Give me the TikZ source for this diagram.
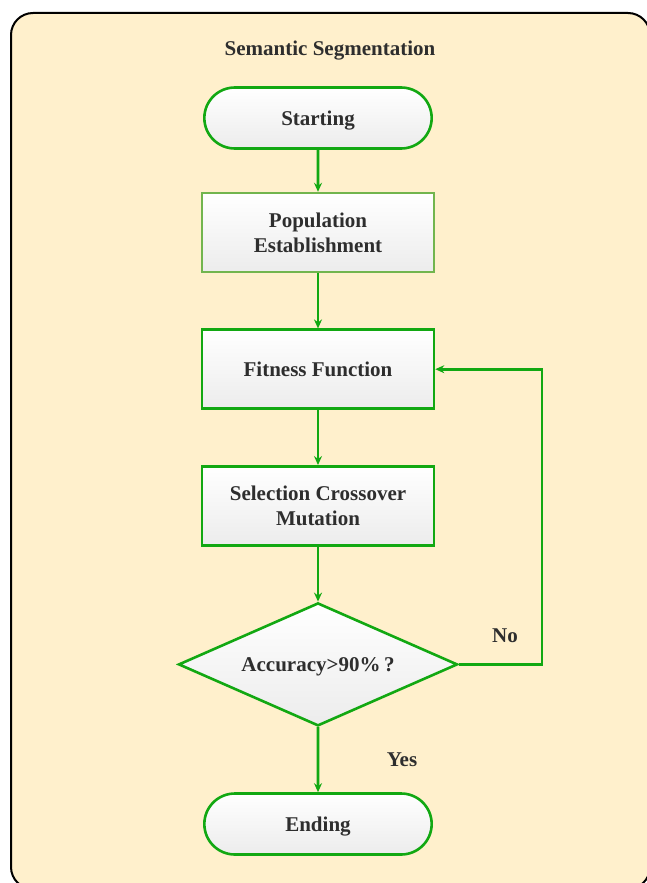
\documentclass[tikz,border=0pt]{standalone}
\usepackage{fontspec}
\setmainfont{Liberation Serif}
\usepackage{tikz}
\usetikzlibrary{arrows.meta, positioning, shapes.misc, shapes.geometric}
\definecolor{Cream}{HTML}{FFF0CC}
\definecolor{LineGreen}{HTML}{12A812}
\definecolor{SoftGreen}{HTML}{72B54E}
\definecolor{TextGray}{HTML}{2E2E2E}
\definecolor{NodeGray}{HTML}{ECECEC}

\begin{document}
\begin{tikzpicture}[x=1pt, y=-1pt,
  every node/.style={font=\fontsize{21}{25}\selectfont\bfseries, text=TextGray, align=center, text depth=0pt},
  term/.style={rounded rectangle, draw=LineGreen, line width=2.6pt, top color=white, bottom color=NodeGray, minimum width=234pt, minimum height=61pt},
  proc/.style={rectangle, draw=LineGreen, line width=2.6pt, top color=white, bottom color=NodeGray, minimum width=232pt, minimum height=79pt},
  decide/.style={diamond, draw=LineGreen, line width=2.6pt, top color=white, bottom color=NodeGray, inner sep=0pt, aspect=2.25, minimum width=279pt, minimum height=123pt},
  arrow/.style={-{Stealth[length=9pt, width=8pt, inset=3pt]}, line width=2.6pt, color=LineGreen}
]
\useasboundingbox (0,0) rectangle (646,883);
\draw[line width=2pt, fill=Cream, rounded corners=22pt] (11,13) rectangle (650,889);

\node (title) at (330,48) {Semantic Segmentation};
\node[term] (start) at (318,118) {Starting};
\node[proc, draw=SoftGreen, below=42pt of start] (pop) {Population\\Establishment};
\node[proc, below=55pt of pop] (fit) {Fitness Function};
\node[proc, below=55pt of fit] (sel) {Selection Crossover\\Mutation};
\node[decide, below=55pt of sel] (acc) {Accuracy>90\%\,?};
\node[term, below=65pt of acc] (end) {Ending};
\node (no) at (505,636) {No};
\node (yes) at (402,760) {Yes};

\draw[arrow] (start) -- (pop);
\draw[arrow] (pop) -- (fit);
\draw[arrow] (fit) -- (sel);
\draw[arrow] (sel) -- (acc);
\draw[arrow] (acc) -- (end);
\draw[arrow] (acc.east) -- ++(83,0) |- (fit.east);
\end{tikzpicture}
\end{document}
